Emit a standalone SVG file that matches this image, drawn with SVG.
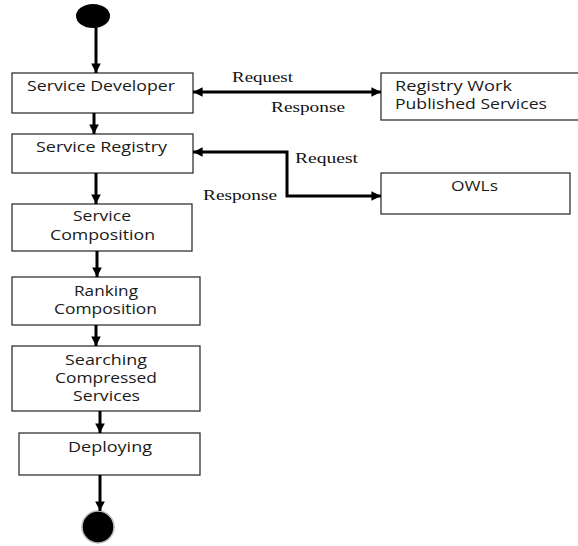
<svg xmlns="http://www.w3.org/2000/svg" width="578" height="546" viewBox="0 0 578 546">
<defs>
<marker id="ah" viewBox="0 0 10 10" refX="10" refY="5" markerWidth="3.2" markerHeight="3.2" orient="auto-start-reverse" markerUnits="strokeWidth">
<path d="M0,0 L10,5 L0,10 Z" fill="#000"/>
</marker>
<style>
.box{fill:#fff;stroke:#333;stroke-width:1.3}
.t{font-family:"Open Sans","Liberation Sans",sans-serif;font-size:14.5px;fill:#1a1a1a;text-anchor:start}
.l{font-family:"Liberation Serif",serif;font-size:15px;fill:#111}
.c{fill:none;stroke:#000;stroke-width:3}
</style>
</defs>
<rect width="578" height="546" fill="#fff"/>
<g id="start"><ellipse cx="93" cy="16" rx="17" ry="12" fill="#000"/></g>
<g id="end"><circle cx="98" cy="527" r="16" fill="#000" stroke="#bbb" stroke-width="1.5"/></g>
<g id="n-developer"><rect class="box" x="12" y="73" width="181" height="40"/><text class="t" x="27" y="91" textLength="148" lengthAdjust="spacingAndGlyphs">Service Developer</text></g>
<g id="n-registry"><rect class="box" x="12" y="134" width="181" height="39"/><text class="t" x="36" y="152" textLength="131" lengthAdjust="spacingAndGlyphs">Service Registry</text></g>
<g id="n-composition"><rect class="box" x="12" y="204" width="180" height="47"/><text class="t" x="73" y="221" textLength="58" lengthAdjust="spacingAndGlyphs">Service</text><text class="t" x="50" y="240" textLength="105" lengthAdjust="spacingAndGlyphs">Composition</text></g>
<g id="n-ranking"><rect class="box" x="12" y="277" width="188" height="48"/><text class="t" x="74" y="296" textLength="64" lengthAdjust="spacingAndGlyphs">Ranking</text><text class="t" x="54" y="314" textLength="103" lengthAdjust="spacingAndGlyphs">Composition</text></g>
<g id="n-searching"><rect class="box" x="12" y="346" width="188" height="65"/><text class="t" x="65" y="365" textLength="82" lengthAdjust="spacingAndGlyphs">Searching</text><text class="t" x="55" y="383" textLength="102" lengthAdjust="spacingAndGlyphs">Compressed</text><text class="t" x="73" y="401" textLength="67" lengthAdjust="spacingAndGlyphs">Services</text></g>
<g id="n-deploying"><rect class="box" x="19" y="433" width="181" height="42"/><text class="t" x="68" y="452" textLength="84" lengthAdjust="spacingAndGlyphs">Deploying</text></g>
<g id="n-registrywork"><rect class="box" x="381" y="73" width="200" height="47"/><text class="t" x="395" y="91" textLength="117" lengthAdjust="spacingAndGlyphs">Registry Work</text><text class="t" x="395" y="109" textLength="152" lengthAdjust="spacingAndGlyphs">Published Services</text></g>
<g id="n-owls"><rect class="box" x="381" y="173" width="189" height="41"/><text class="t" x="451" y="191" textLength="47" lengthAdjust="spacingAndGlyphs">OWLs</text></g>
<g id="connectors">
<path class="c" d="M96,27 V73" marker-end="url(#ah)"/>
<path class="c" d="M94,113 V134" marker-end="url(#ah)"/>
<path class="c" d="M96,173 V204" marker-end="url(#ah)"/>
<path class="c" d="M97,251 V277" marker-end="url(#ah)"/>
<path class="c" d="M96,325 V346" marker-end="url(#ah)"/>
<path class="c" d="M100,411 V433" marker-end="url(#ah)"/>
<path class="c" d="M100,475 V511" marker-end="url(#ah)"/>
<path class="c" d="M193,92 H381" marker-start="url(#ah)" marker-end="url(#ah)"/>
<path class="c" d="M193,152 H287 V196 H381" marker-start="url(#ah)" marker-end="url(#ah)"/>
<text class="l" x="232" y="82" textLength="61" lengthAdjust="spacingAndGlyphs">Request</text>
<text class="l" x="271" y="112" textLength="74" lengthAdjust="spacingAndGlyphs">Response</text>
<text class="l" x="295" y="163" textLength="63" lengthAdjust="spacingAndGlyphs">Request</text>
<text class="l" x="203" y="200" textLength="74" lengthAdjust="spacingAndGlyphs">Response</text>
</g>
</svg>
